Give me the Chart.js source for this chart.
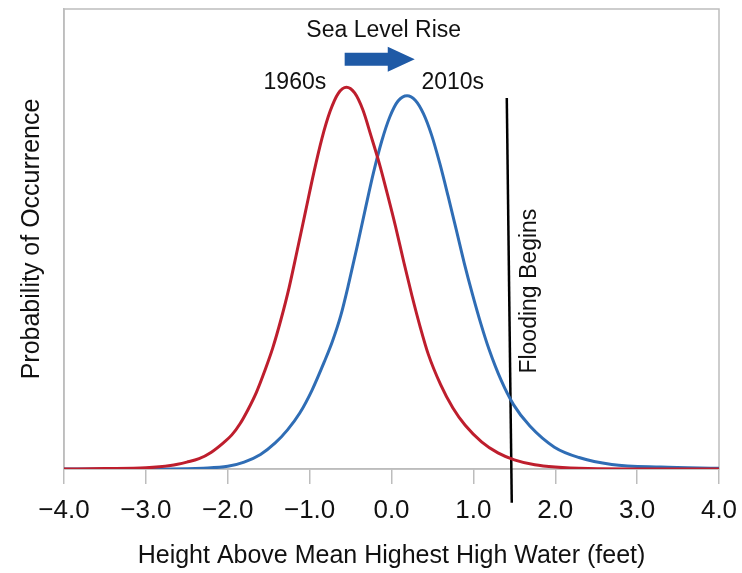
<!DOCTYPE html>
<html>
<head>
<meta charset="utf-8">
<title>Sea Level Rise</title>
<script src="https://cdn.jsdelivr.net/npm/chart.js@4.4.1/dist/chart.umd.min.js"></script>
<style>
    html, body { margin: 0; padding: 0; background: #ffffff; }
    #wrap { width: 742px; height: 573px; }
</style>
</head>
<body>
<div id="wrap"><canvas id="chart" width="742" height="573"></canvas></div>
<script>
// --- Datos ---
const xTicks = [-4, -3, -2, -1, 0, 1, 2, 3, 4];

// curva 1960s (roja)
const x1960 = [-4.0, -3.5, -3.0, -2.7, -2.5, -2.35, -2.2, -2.05, -1.95, -1.85, -1.75, -1.65, -1.55, -1.45, -1.35, -1.25, -1.15, -1.05, -0.95, -0.85, -0.75, -0.65, -0.55, -0.45, -0.35, -0.25, -0.15, -0.05, 0.05, 0.15, 0.25, 0.35, 0.45, 0.6, 0.75, 0.9, 1.1, 1.3, 1.5, 1.75, 2.0, 2.4, 3.0, 4.0];
const y1960 = [0.000, 0.001, 0.003, 0.009, 0.018, 0.027, 0.044, 0.069, 0.089, 0.118, 0.156, 0.200, 0.255, 0.316, 0.390, 0.474, 0.572, 0.672, 0.772, 0.862, 0.933, 0.980, 0.996, 0.981, 0.937, 0.869, 0.798, 0.717, 0.632, 0.540, 0.452, 0.371, 0.299, 0.220, 0.159, 0.114, 0.071, 0.042, 0.024, 0.011, 0.005, 0.001, 0.000, 0.000];

// curva 2010s (azul)
const x2010 = [-4.0, -2.7, -2.3, -2.0, -1.8, -1.6, -1.42, -1.27, -1.12, -0.97, -0.82, -0.72, -0.62, -0.52, -0.42, -0.32, -0.22, -0.12, -0.02, 0.08, 0.19, 0.29, 0.39, 0.49, 0.59, 0.69, 0.79, 0.89, 0.99, 1.09, 1.19, 1.34, 1.49, 1.69, 1.99, 2.29, 2.69, 3.29, 4.0];
const y2010 = [0.000, 0.000, 0.002, 0.007, 0.018, 0.038, 0.068, 0.102, 0.146, 0.206, 0.280, 0.334, 0.400, 0.486, 0.580, 0.678, 0.773, 0.855, 0.919, 0.960, 0.974, 0.962, 0.927, 0.871, 0.797, 0.713, 0.625, 0.536, 0.455, 0.380, 0.313, 0.231, 0.168, 0.112, 0.057, 0.030, 0.012, 0.005, 0.002];

// línea "Flooding Begins" (extremos, un poco inclinada)
const xFlood = [1.408, 1.469];
const yFlood = [0.968, -0.088];

// --- Estilos ---
const RED = '#be1e2d';
const BLUE = '#2f6db5';
const ARROW_BLUE = '#1f5aa6';
const FRAME = '#bdbdbd';
const FONT = "'Liberation Sans', Arial, Helvetica, sans-serif";

const toPoints = (xs, ys) => xs.map((x, i) => ({ x: x, y: ys[i] }));
const fmtTick = v => (v < 0 ? '\u2212' : '') + Math.abs(v).toFixed(1);

// textos y flecha, en unidades de los ejes
const notes = {
    seaLevel: { x: -0.095, y: 1.143, text: 'Sea Level Rise' },
    arrow: { from: -0.572, to: 0.284, y: 1.069 },
    l1960: { x: -1.18, y: 1.007, text: '1960s' },
    l2010: { x: 0.748, y: 1.009, text: '2010s' },
    flood: { x: 1.69, y: 0.464, text: 'Flooding Begins' }
};

const framePlugin = {
    id: 'frame',
    beforeDatasetsDraw(chart) {
        const { ctx, chartArea: a } = chart;
        ctx.save();
        ctx.strokeStyle = FRAME;
        ctx.lineWidth = 1.5;
        ctx.strokeRect(a.left, a.top, a.right - a.left, a.bottom - a.top);
        ctx.restore();
    }
};

const notesPlugin = {
    id: 'notes',
    afterDraw(chart) {
        const { ctx } = chart;
        const xs = chart.scales.x, ys = chart.scales.y;
        const px = v => xs.getPixelForValue(v);
        const py = v => ys.getPixelForValue(v);

        ctx.save();
        ctx.fillStyle = '#111111';
        ctx.font = '23px ' + FONT;
        ctx.textAlign = 'center';
        ctx.textBaseline = 'middle';
        [notes.seaLevel, notes.l1960, notes.l2010].forEach(n => {
            ctx.fillText(n.text, px(n.x), py(n.y));
        });

        // texto vertical
        ctx.save();
        ctx.translate(px(notes.flood.x), py(notes.flood.y));
        ctx.rotate(-Math.PI / 2);
        ctx.fillText(notes.flood.text, 0, 0);
        ctx.restore();

        // flecha
        const x0 = px(notes.arrow.from), x1 = px(notes.arrow.to), yc = py(notes.arrow.y);
        const headLen = 27, shaftH = 6.5, headH = 12.5;
        ctx.fillStyle = ARROW_BLUE;
        ctx.beginPath();
        ctx.moveTo(x0, yc - shaftH);
        ctx.lineTo(x1 - headLen, yc - shaftH);
        ctx.lineTo(x1 - headLen, yc - headH);
        ctx.lineTo(x1, yc);
        ctx.lineTo(x1 - headLen, yc + headH);
        ctx.lineTo(x1 - headLen, yc + shaftH);
        ctx.lineTo(x0, yc + shaftH);
        ctx.closePath();
        ctx.fill();
        ctx.restore();
    }
};

new Chart(document.getElementById('chart').getContext('2d'), {
    type: 'scatter',
    data: {
        datasets: [
            {
                label: '1960s',
                data: toPoints(x1960, y1960),
                showLine: true,
                borderColor: RED,
                borderWidth: 3,
                pointRadius: 0,
                cubicInterpolationMode: 'monotone',
                fill: false
            },
            {
                label: '2010s',
                data: toPoints(x2010, y2010),
                showLine: true,
                borderColor: BLUE,
                borderWidth: 3,
                pointRadius: 0,
                cubicInterpolationMode: 'monotone',
                fill: false
            },
            {
                label: 'Flooding Begins',
                data: toPoints(xFlood, yFlood),
                showLine: true,
                borderColor: '#000000',
                borderWidth: 2.5,
                pointRadius: 0,
                clip: false,
                fill: false
            }
        ]
    },
    options: {
        responsive: false,
        animation: false,
        devicePixelRatio: 1,
        layout: { padding: { left: 0, right: 23, top: 9, bottom: 0 } },
        plugins: {
            legend: { display: false },
            tooltip: { enabled: false }
        },
        scales: {
            x: {
                type: 'linear',
                min: -4,
                max: 4,
                afterBuildTicks: scale => { scale.ticks = xTicks.map(v => ({ value: v })); },
                afterFit: scale => {
                    scale.height = 104;
                    scale.paddingLeft = 0;
                    scale.paddingRight = 0;
                },
                ticks: {
                    callback: v => fmtTick(v),
                    color: '#111111',
                    font: { family: FONT, size: 26 },
                    padding: 11,
                    maxRotation: 0
                },
                grid: {
                    display: true,
                    drawOnChartArea: false,
                    drawTicks: true,
                    tickLength: 15,
                    color: FRAME,
                    lineWidth: 1.5
                },
                border: { display: true, color: FRAME, width: 1.5 },
                title: {
                    display: true,
                    text: 'Height Above Mean Highest High Water (feet)',
                    color: '#111111',
                    font: { family: FONT, size: 25 },
                    padding: { top: 0, bottom: 2 }
                }
            },
            y: {
                type: 'linear',
                min: 0,
                max: 1.2,
                afterFit: scale => { scale.width = 64; },
                ticks: { display: false },
                grid: { display: false },
                border: { display: true, color: FRAME, width: 1.5 },
                title: {
                    display: true,
                    text: 'Probability of Occurrence',
                    color: '#111111',
                    font: { family: FONT, size: 25 },
                    padding: { top: 17, bottom: 0 }
                }
            }
        }
    },
    plugins: [framePlugin, notesPlugin]
});
</script>
</body>
</html>
